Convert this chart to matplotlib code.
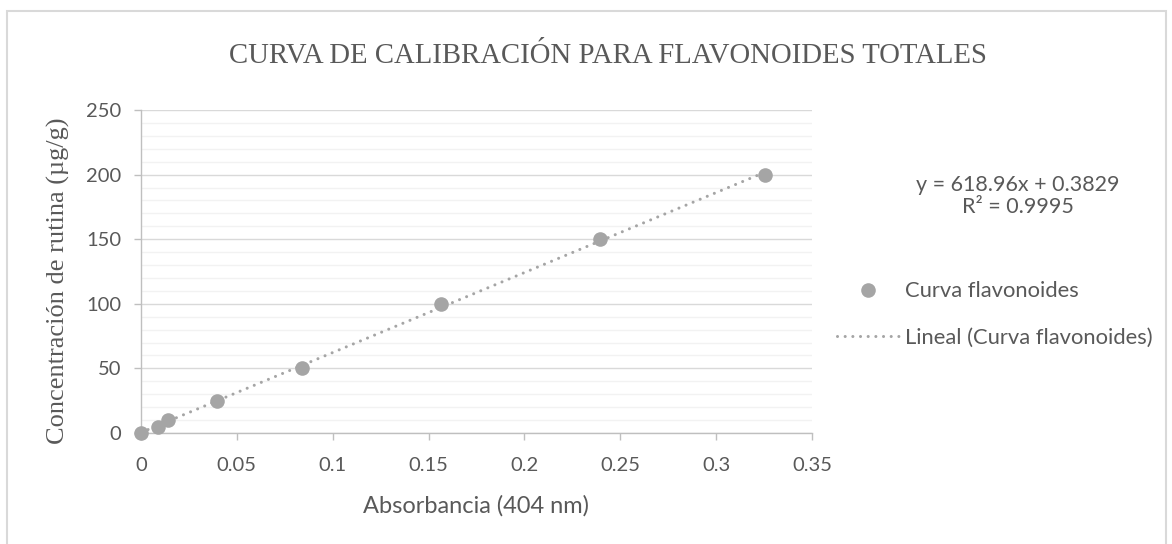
import numpy as np
import matplotlib.pyplot as plt
from matplotlib.patches import Rectangle
from matplotlib.lines import Line2D

# data
absorbancia = [0.0, 0.0087, 0.0143, 0.0396, 0.0841, 0.1565, 0.2392, 0.3257]
concentracion = [0, 5, 10, 25, 50, 100, 150, 200]

# trend line as printed on the chart
pendiente = 618.96
intercepto = 0.3829
r2 = 0.9995

x_ticks = [0, 0.05, 0.1, 0.15, 0.2, 0.25, 0.3, 0.35]
x_ticklabels = ['0', '0.05', '0.1', '0.15', '0.2', '0.25', '0.3', '0.35']
y_ticks = [0, 50, 100, 150, 200, 250]

gris = '#a5a5a5'
texto = '#595959'
sans = ['Lato', 'DejaVu Sans']
serif = ['Liberation Serif', 'DejaVu Serif']

fig = plt.figure(figsize=(11.72, 5.44), dpi=100)
# chart frame (bottom edge runs past the image)
fig.patches.append(Rectangle((7 / 1172, -0.02), 1159 / 1172, 1.02 - 11 / 544,
                             transform=fig.transFigure, fill=False,
                             edgecolor='#d9d9d9', linewidth=1.5))
ax = fig.add_axes([0.1203, 0.204, 0.5725, 0.5938])

# trend line
x_fit = np.array([absorbancia[0], absorbancia[-1]])
ax.plot(x_fit, pendiente * x_fit + intercepto, color=gris, linewidth=2.2,
        dashes=(0.01, 2.5), dash_capstyle='round', zorder=2)
ax.plot(absorbancia, concentracion, 'o', color=gris, markersize=10.5,
        markeredgewidth=0, zorder=3, clip_on=False)

ax.set_xlim(0, 0.35)
ax.set_ylim(0, 250)
ax.set_xticks(x_ticks)
ax.set_xticklabels(x_ticklabels)
ax.set_yticks(y_ticks)
ax.set_yticks(np.arange(0, 251, 10), minor=True)

ax.grid(axis='y', which='major', color='#d9d9d9', linewidth=1)
ax.grid(axis='y', which='minor', color='#f2f2f2', linewidth=1)
ax.set_axisbelow(True)

for s in ['top', 'right']:
    ax.spines[s].set_visible(False)
for s in ['left', 'bottom']:
    ax.spines[s].set_color('#bfbfbf')
    ax.spines[s].set_linewidth(1)

ax.tick_params(axis='both', which='major', length=5, width=1, color='#bfbfbf',
               labelcolor=texto, labelsize=14.5)
ax.tick_params(axis='y', which='minor', length=0)
ax.tick_params(axis='y', pad=9)
ax.tick_params(axis='x', pad=12)
for lab in ax.get_xticklabels() + ax.get_yticklabels():
    lab.set_family(sans)

ax.set_xlabel('Absorbancia (404 nm)', fontsize=17, color=texto, family=sans)
ax.xaxis.set_label_coords(0.5, -0.192)
ax.set_ylabel('Concentración de rutina (µg/g)', fontsize=19, color=texto, family=serif)
ax.yaxis.set_label_coords(-0.106, 0.47)

fig.text(608 / 1172, 0.897, 'CURVA DE CALIBRACIÓN PARA FLAVONOIDES TOTALES', ha='center',
         va='center', fontsize=20.7, color=texto, family=serif)

fig.text(1018 / 1172, 0.640, 'y = {:.2f}x + {:.4f}\nR² = {:.4f}'.format(pendiente, intercepto, r2),
         ha='center', va='center', fontsize=15.5, color=texto, family=sans, linespacing=1.1)

handles = [Line2D([], [], marker='o', linestyle='none', color=gris, markersize=10.5,
                  markeredgewidth=0),
           Line2D([], [], color=gris, linewidth=2.2, dashes=(0.01, 2.5),
                  dash_capstyle='round')]
leg = fig.legend(handles, ['Curva flavonoides', 'Lineal (Curva flavonoides)'],
                 loc='upper left', bbox_to_anchor=(0.6977, 0.519), frameon=False,
                 handlelength=2.8, handletextpad=0.3, labelspacing=1.2,
                 prop={'family': sans, 'size': 15.8})
for t in leg.get_texts():
    t.set_color(texto)

fig.savefig('out.png', dpi=100)
